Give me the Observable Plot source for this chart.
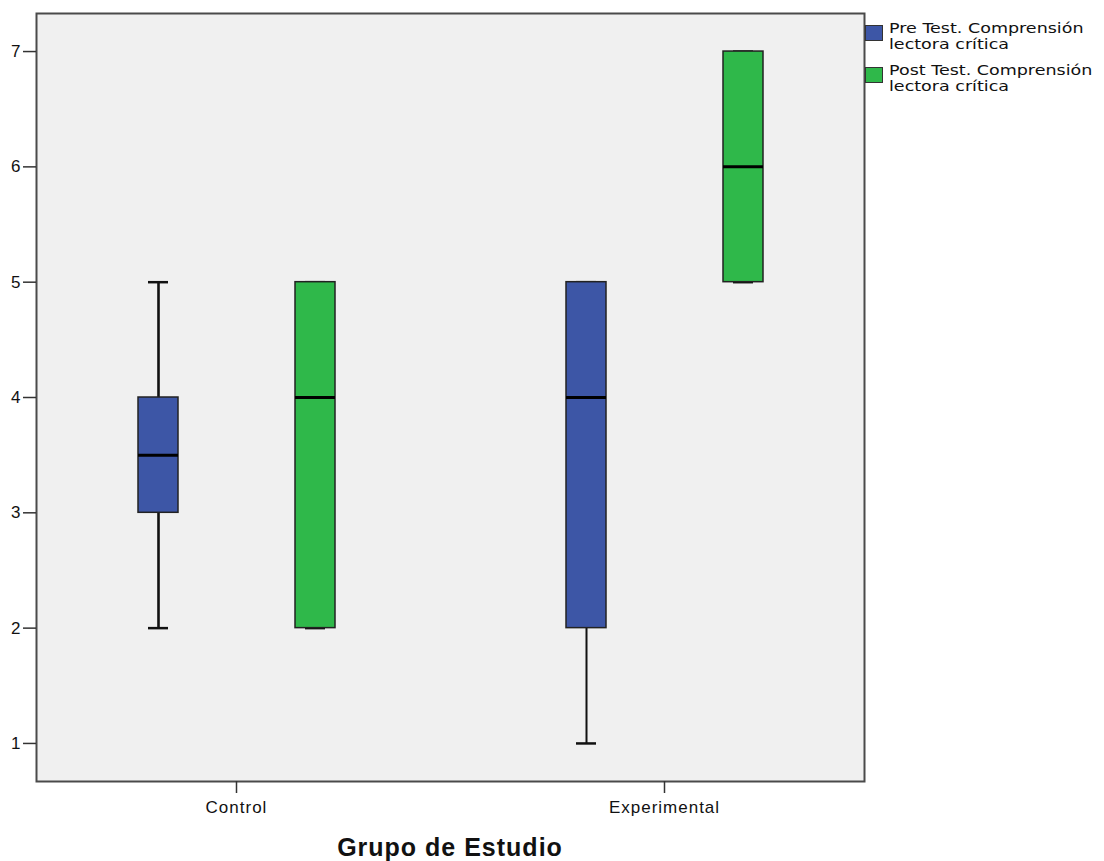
<!DOCTYPE html>
<html>
<head>
<meta charset="utf-8">
<script src="https://cdn.jsdelivr.net/npm/d3@7"></script>
<script src="https://cdn.jsdelivr.net/npm/@observablehq/plot@0.6"></script>
<style>
  html, body { margin: 0; padding: 0; background: #fff; }
  #wrap { position: relative; width: 1104px; height: 861px; font-family: "Liberation Sans", Arial, sans-serif; }
  #title { position: absolute; left: 35px; top: 832px; width: 830px; text-align: center;
           font: bold 25px/30px "Liberation Sans", Arial, sans-serif; letter-spacing: 1px; color: #111; }
  .leg { position: absolute; left: 865px; }
  .sw { position: absolute; left: 0; width: 18px; height: 16px; border: 1px solid #333; box-sizing: border-box; }
  .lt { position: absolute; left: 24px; font: 14px/16px "DejaVu Sans", sans-serif; color: #111;
        white-space: nowrap; transform: scaleX(1.25); transform-origin: left top; }
  svg text { letter-spacing: 1px; }
</style>
</head>
<body>
<div id="wrap">
  <div id="chart"></div>
  <div id="title">Grupo de Estudio</div>
  <div id="legend"></div>
</div>
<script>
const groups = ["Control", "Control", "Experimental", "Experimental"];
const series = ["Pre Test. Comprensión lectora crítica", "Post Test. Comprensión lectora crítica",
                "Pre Test. Comprensión lectora crítica", "Post Test. Comprensión lectora crítica"];
const mins    = [2, 2, 1, 5];
const q1s     = [3, 2, 2, 5];
const medians = [3.5, 4, 4, 6];
const q3s     = [4, 5, 5, 7];
const maxs    = [5, 5, 5, 7];
const groupLabels = ["Control", "Experimental"];
const seriesLabels = ["Pre Test. Comprensión lectora crítica", "Post Test. Comprensión lectora crítica"];
const legendLines = [["Pre Test. Comprensión", "lectora crítica"], ["Post Test. Comprensión", "lectora crítica"]];
const yTicks = [1, 2, 3, 4, 5, 6, 7];
const seriesColors = ["#3D56A6", "#2FB84A"];

const table = groups.map((g, i) => ({
  group: g, series: series[i], min: mins[i], q1: q1s[i], median: medians[i], q3: q3s[i], max: maxs[i]
}));

const chart = Plot.plot({
  width: 1104,
  height: 820,
  marginLeft: 35,
  marginRight: 239,
  marginTop: 13,
  marginBottom: 39,
  style: { fontFamily: "'Liberation Sans', Arial, sans-serif", color: "#111", background: "#fff" },
  fx: { domain: groupLabels, paddingInner: 0.065, paddingOuter: 0, label: null },
  x: { domain: seriesLabels, paddingInner: 0.747, paddingOuter: 0.642, axis: null },
  y: { domain: [0.67, 7.33], label: null },
  color: { domain: seriesLabels, range: seriesColors },
  marks: [
    Plot.frame({ fill: "#f0f0f0", stroke: "#4a4a4a", strokeWidth: 2, facet: "super" }),
    Plot.ruleX(table, { fx: "group", x: "series", y1: "min", y2: "q1", stroke: "#111", strokeWidth: d => d.group === "Control" ? 2.6 : 2 }),
    Plot.ruleX(table, { fx: "group", x: "series", y1: "q3", y2: "max", stroke: "#111", strokeWidth: d => d.group === "Control" ? 2.6 : 2 }),
    Plot.tickY(table, { fx: "group", x: "series", y: "min", stroke: "#111", strokeWidth: 2.5, insetLeft: 10, insetRight: 10 }),
    Plot.tickY(table, { fx: "group", x: "series", y: "max", stroke: "#111", strokeWidth: 2.5, insetLeft: 10, insetRight: 10 }),
    Plot.barY(table, { fx: "group", x: "series", y1: "q1", y2: "q3", fill: "series", stroke: "#222", strokeWidth: 1.5 }),
    Plot.tickY(table, { fx: "group", x: "series", y: "median", stroke: "#000", strokeWidth: 3 }),
    Plot.axisY({ ticks: yTicks, tickFormat: d3.format("d"), tickSize: 13, tickPadding: 2, fontSize: 17, stroke: "#333", strokeWidth: 1.5, label: null }),
    Plot.axisFx({ anchor: "bottom", tickSize: 12, tickPadding: 7, fontSize: 17, stroke: "#333", strokeWidth: 1.5, label: null })
  ]
});
document.getElementById("chart").appendChild(chart);

const legend = document.getElementById("legend");
const tops = [25, 67];
seriesLabels.forEach((s, i) => {
  const item = document.createElement("div");
  item.className = "leg";
  item.style.top = tops[i] + "px";
  const sw = document.createElement("div");
  sw.className = "sw";
  sw.style.top = "0px";
  sw.style.background = seriesColors[i];
  item.appendChild(sw);
  const lt = document.createElement("div");
  lt.className = "lt";
  lt.style.top = "-5px";
  lt.innerHTML = legendLines[i].join("<br>");
  item.appendChild(lt);
  legend.appendChild(item);
});
</script>
</body>
</html>
